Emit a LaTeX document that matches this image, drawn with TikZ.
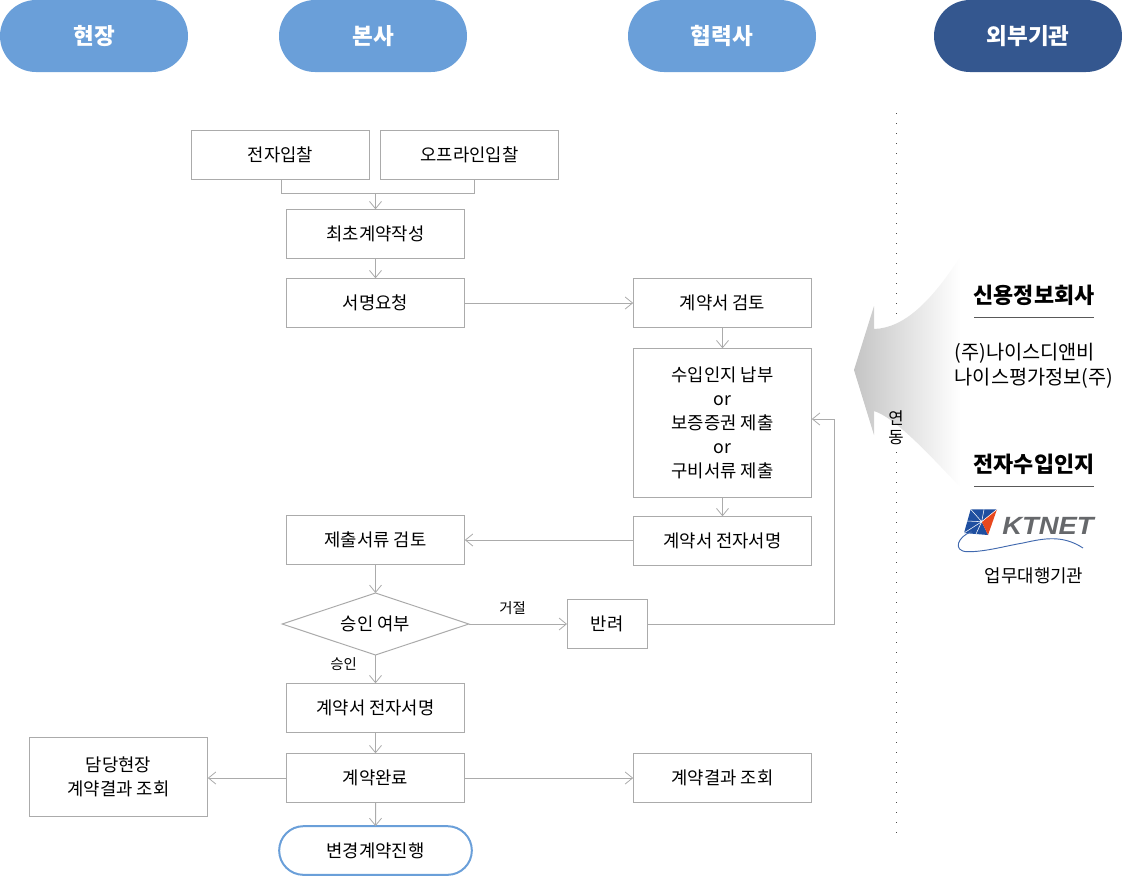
\documentclass[tikz,border=0pt]{standalone}
\usepackage{fontspec}
\setmainfont{Noto Sans CJK KR}
\newfontfamily\logofont{Liberation Sans}
\usetikzlibrary{arrows.meta, shapes.geometric, shapes.misc}
\definecolor{headblue}{HTML}{6A9FD9}
\definecolor{headnavy}{HTML}{34578F}
\definecolor{linegray}{HTML}{ABABAB}
\definecolor{logoblue}{HTML}{1F4FA0}
\definecolor{logored}{HTML}{E8481E}
\definecolor{logogray}{HTML}{66686B}
\tikzset{
	every node/.append style={
		font={\fontsize{13.3}{18}\selectfont},
		inner sep=0pt,
		outer sep=0pt,
	},
	flow/.style={
		draw=linegray,
		line width=0.75pt,
		-{Straight Barb[length=5.5pt,width=9pt,line width=0.6pt]},
	},
	link/.style={
		draw=linegray,
		line width=0.75pt,
	},
	stepbox/.style={
		draw=linegray,
		line width=0.75pt,
		align=center,
		minimum width=134pt,
		minimum height=37pt,
	},
	head/.style={
		rounded rectangle,
		fill=headblue,
		text=white,
		minimum width=141pt,
		minimum height=54pt,
		font={\fontsize{16.9}{20}\selectfont\bfseries},
	},
	choice/.style={
		diamond,
		aspect=3,
		draw=linegray,
		line width=0.75pt,
		minimum width=140pt,
		minimum height=46.5pt,
	},
	tag/.style={
		font={\fontsize{10.8}{13}\selectfont},
	},
	partner/.style={
		font={\fontsize{16.4}{20}\selectfont\bfseries},
	},
	rulebar/.style={
		draw=black!65,
		line width=0.75pt,
	},
}
\begin{document}
\begin{tikzpicture}[x=0.75pt,y=-0.75pt]
	\useasboundingbox (0,0) rectangle (1122,876);

	% column heads
	\node[head] (site) at (94,36) {현장};
	\node[head] (office) at (373,36) {본사};
	\node[head] (vendor) at (722,36) {협력사};
	\node[head,fill=headnavy] (outside) at (1028,36) {외부기관};

	% dotted divider, interrupted by the big arrow and its label
	\coordinate (dottop) at (896,113);
	\coordinate (dotgap) at (896,322);
	\coordinate (dotback) at (896,452);
	\coordinate (dotend) at (896,836);
	\draw[black!70,line width=0.75pt,dash pattern=on 0.9pt off 6.6pt] (dottop) -- (dotgap);
	\draw[black!70,line width=0.75pt,dash pattern=on 0.9pt off 6.6pt] (dotback) -- (dotend);

	% big arrow coming in from the outside agencies
	\path[left color=black!23,right color=white]
		(854,370) -- (874,306) -- (874,329)
		.. controls (905,328) and (932,300) .. (960,257)
		-- (960,487)
		.. controls (925,450) and (895,418) .. (874,411)
		-- (874,435) -- cycle;
	\node[align=center,font={\fontsize{12.5}{14.2}\selectfont}] (sync) at (896,428) {연\\동};

	% main flow
	\node[stepbox] (online) at (280.5,155) {전자입찰};
	\node[stepbox] (offline) at (469.5,155) {오프라인입찰};
	\node[stepbox] (draft) at (375.5,234) {최초계약작성};
	\node[stepbox] (signreq) at (375.5,303) {서명요청};
	\node[stepbox] (review) at (722.5,303) {계약서 검토};
	\node[stepbox,minimum height=112pt] (stamp) at (722.5,423) {수입인지 납부\\or\\보증증권 제출\\or\\구비서류 제출};
	\node[stepbox] (esign) at (722.5,541) {계약서 전자서명};
	\node[stepbox] (docs) at (375.5,540) {제출서류 검토};
	\node[choice] (approve) at (375.5,624) {승인 여부};
	\node[stepbox,minimum width=60pt] (bounce) at (607,624) {반려};
	\node[stepbox] (esigntwo) at (375.5,708) {계약서 전자서명};
	\node[stepbox] (done) at (375.5,778) {계약완료};
	\node[stepbox,minimum height=59.5pt] (sitecheck) at (118.5,777) {담당현장\\계약결과 조회};
	\node[stepbox] (vendorcheck) at (722.5,778) {계약결과 조회};
	\node[rounded rectangle,draw=headblue,line width=1.5pt,minimum width=144.5pt,minimum height=36.5pt] (change) at (375.5,850.5) {변경계약진행};

	% labels on the branches
	\node[tag] (reject) at (512.5,608) {거절};
	\node[tag] (accept) at (343.5,664) {승인};

	% the two bids join above the first draft
	\coordinate (joinleft) at (281,193);
	\coordinate (joinright) at (474,193);
	\coordinate (joinmid) at (375.5,193);
	\draw[link] (online.south -| joinleft) -- (joinleft) -- (joinright) -- (offline.south -| joinright);
	\draw[flow] (joinmid) -- (draft);
	\draw[flow] (draft) -- (signreq);
	\draw[flow] (signreq) -- (review);
	\draw[flow] (review) -- (stamp);
	\draw[flow] (stamp) -- (esign);
	\draw[flow] (esign.west |- docs) -- (docs);
	\draw[flow] (docs) -- (approve);
	\draw[flow] (approve) -- (bounce);
	\draw[flow] (approve) -- (esigntwo);
	\draw[flow] (esigntwo) -- (done);
	\draw[flow] (done) -- (sitecheck.east |- done);
	\draw[flow] (done) -- (vendorcheck);
	\draw[flow] (done) -- (change);

	% returned documents go back up
	\coordinate (backlow) at (834.5,624);
	\coordinate (backhigh) at (834.5,419);
	\draw[flow] (bounce) -- (backlow) -- (backhigh) -- (stamp.east |- backhigh);

	% outside agencies
	\node[partner] (credit) at (1034,295) {신용정보회사};
	\coordinate (creditl) at (974,317);
	\coordinate (creditr) at (1094,317);
	\draw[rulebar] (creditl) -- (creditr);
	\node[align=left,font={\fontsize{14.8}{18.5}\selectfont}] (agency) at (1034,366) {(주)나이스디앤비\\나이스평가정보(주)};
	\node[partner] (revenue) at (1034,464) {전자수입인지};
	\coordinate (revenuel) at (974,486);
	\coordinate (revenuer) at (1094,486);
	\draw[rulebar] (revenuel) -- (revenuer);
	\node[font={\fontsize{13.4}{16}\selectfont}] (proxy) at (1034,576) {업무대행기관};

	% logo
	\fill[logoblue] (970.7,509.3) -- (997,509.3) -- (981.7,521.7) -- (988,535) -- (964,533) -- cycle;
	\fill[logored] (997,509.3) -- (981.7,521.7) -- (988,535) -- cycle;
	\draw[white,line width=0.4pt] (981.7,521.7) -- (970.7,509.3)
		(981.7,521.7) -- (984,509.3)
		(981.7,521.7) -- (997,509.3)
		(981.7,521.7) -- (967,521)
		(981.7,521.7) -- (964,533)
		(981.7,521.7) -- (976,534);
	\node[font={\logofont\fontsize{18.7}{19}\selectfont\bfseries\itshape},text=logogray] (ktnet) at (1048,526) {\scalebox{1.1}[1]{KTNET}};
	\draw[logoblue!85!white,line width=0.7pt] (971.7,531.7)
		.. controls (958,536) and (952,551) .. (967,551.7)
		.. controls (985,552) and (1005,546) .. (1023,543)
		.. controls (1045,538) and (1063,535) .. (1083,548);
\end{tikzpicture}
\end{document}
